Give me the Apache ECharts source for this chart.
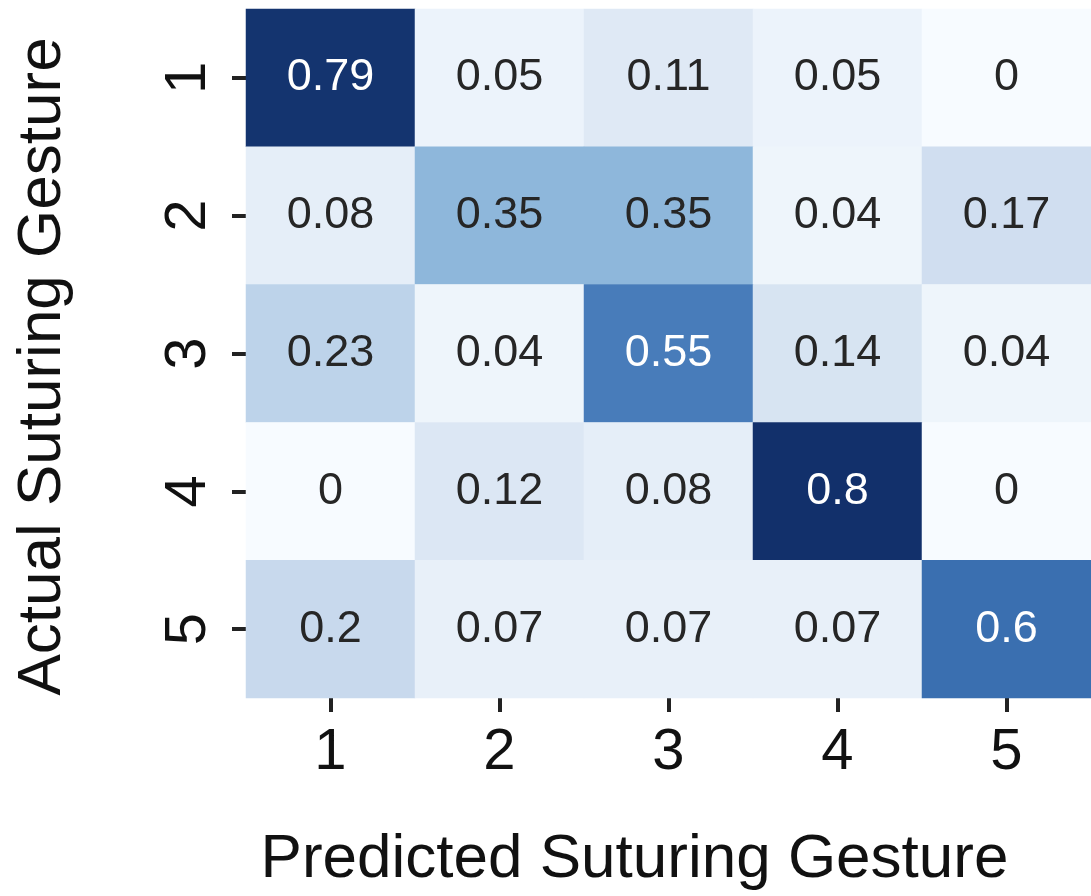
<!DOCTYPE html>
<html>
<head>
<meta charset="utf-8">
<script src="https://cdn.jsdelivr.net/npm/echarts@6/dist/echarts.min.js"></script>
<style>
  html, body { margin: 0; padding: 0; background: #fff; }
  #cm { width: 1091px; height: 896px; }
</style>
</head>
<body>
<div id="cm"></div>
<script>
// categories (gesture ids)
var predicted = ["1", "2", "3", "4", "5"];
var actual = ["1", "2", "3", "4", "5"];

// confusion matrix rows = actual gesture, cols = predicted gesture
var row1 = [0.79, 0.05, 0.11, 0.05, 0];
var row2 = [0.08, 0.35, 0.35, 0.04, 0.17];
var row3 = [0.23, 0.04, 0.55, 0.14, 0.04];
var row4 = [0, 0.12, 0.08, 0.8, 0];
var row5 = [0.2, 0.07, 0.07, 0.07, 0.6];
var rows = [row1, row2, row3, row4, row5];

// Blues-like ramp (a bit greyer than matplotlib's, as in the picture)
var blues = ["#f7fbff", "#e1ebf6", "#c8d9ed", "#a3c5e2", "#78a9d4", "#5589c3", "#3a6fb0", "#245497", "#12306b"];

var cells = [];
rows.forEach(function (r, yi) {
  r.forEach(function (v, xi) {
    cells.push({
      value: [xi, yi, v],
      label: { color: v > 0.5 ? "#ffffff" : "#262626" }
    });
  });
});

var myChart = echarts.init(document.getElementById("cm"));
var font = "'Liberation Sans', Arial, Helvetica, sans-serif";

var option = {
  backgroundColor: "#ffffff",
  animation: false,
  grid: { left: 246, top: 9, width: 854, height: 692 },
  xAxis: {
    type: "category",
    data: predicted,
    position: "bottom",
    axisLine: { show: false },
    axisTick: { show: true, alignWithLabel: true, length: 14, lineStyle: { color: "#222", width: 4 } },
    axisLabel: { fontSize: 58, color: "#111", fontFamily: font, margin: 26 },
    splitLine: { show: false },
    name: "Predicted Suturing Gesture",
    nameLocation: "middle",
    nameGap: 131,
    nameTextStyle: { fontSize: 62, color: "#111", fontFamily: font, padding: [0, 68, 0, 0] }
  },
  yAxis: {
    type: "category",
    data: actual,
    inverse: true,
    axisLine: { show: false },
    axisTick: { show: true, alignWithLabel: true, length: 14, lineStyle: { color: "#222", width: 4 } },
    axisLabel: { fontSize: 58, color: "#111", fontFamily: font, rotate: 90, margin: 28 },
    splitLine: { show: false },
    name: "Actual Suturing Gesture",
    nameLocation: "middle",
    nameRotate: 90,
    nameGap: 172,
    nameTextStyle: { fontSize: 62, color: "#111", fontFamily: font, padding: [0, 26, 0, 0] }
  },
  visualMap: {
    show: false,
    min: 0,
    max: 0.8,
    calculable: false,
    inRange: { color: blues }
  },
  series: [
    {
      name: "confusion",
      type: "heatmap",
      data: cells,
      label: {
        show: true,
        fontSize: 45,
        fontFamily: font,
        formatter: function (p) { return String(p.value[2]); }
      },
      itemStyle: { borderWidth: 0 },
      emphasis: { disabled: true }
    }
  ]
};

myChart.setOption(option);
</script>
</body>
</html>
